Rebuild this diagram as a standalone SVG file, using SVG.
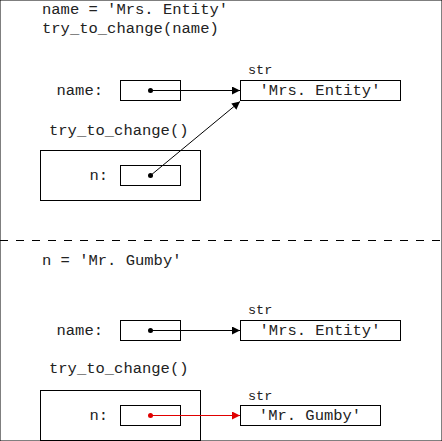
<svg xmlns="http://www.w3.org/2000/svg" width="442" height="441" viewBox="0 0 442 441">
<style>
text{font-family:"Liberation Mono","Courier New",monospace;font-size:15.5px;fill:#222}
.lbl{text-anchor:end}
.mid{text-anchor:middle}
.typ{font-size:13.5px}
rect{fill:none;stroke:#000;stroke-width:1}
.conn{stroke:#000;stroke-width:1;fill:none}
.red{stroke:#e00000}
</style>
<defs>
<marker id="ah" viewBox="0 0 10 10" refX="10" refY="5" markerWidth="9" markerHeight="8" markerUnits="userSpaceOnUse" orient="auto"><path d="M0,0 L10,5 L0,10 z" fill="#000"/></marker>
<marker id="ahr" viewBox="0 0 10 10" refX="10" refY="5" markerWidth="9" markerHeight="8" markerUnits="userSpaceOnUse" orient="auto"><path d="M0,0 L10,5 L0,10 z" fill="#e00000"/></marker>
</defs>
<rect width="442" height="441" fill="#fff" stroke="none"/>
<g id="code1">
<text x="42" y="14">name = 'Mrs. Entity'</text>
<text x="42" y="33">try_to_change(name)</text>
</g>
<g id="name1">
<text class="lbl" x="103" y="95">name:</text>
<rect x="120.5" y="80.5" width="60" height="20"/>
</g>
<g id="str1">
<text class="typ" x="248" y="74">str</text>
<rect x="240.5" y="80.5" width="160" height="20"/>
<text class="mid" x="320" y="95">'Mrs. Entity'</text>
</g>
<g id="frame1">
<text x="49" y="135">try_to_change()</text>
<rect x="40.5" y="150.5" width="160" height="50"/>
<text class="lbl" x="108" y="180">n:</text>
<rect x="120.5" y="165.5" width="60" height="20"/>
</g>
<g id="divider">
<line x1="0" y1="240.5" x2="442" y2="240.5" stroke="#000" stroke-width="1" stroke-dasharray="8,8"/>
</g>
<g id="code2">
<text x="42" y="265">n = 'Mr. Gumby'</text>
</g>
<g id="name2">
<text class="lbl" x="103" y="335">name:</text>
<rect x="120.5" y="320.5" width="60" height="20"/>
</g>
<g id="str2">
<text class="typ" x="248" y="314">str</text>
<rect x="240.5" y="320.5" width="160" height="20"/>
<text class="mid" x="320" y="335">'Mrs. Entity'</text>
</g>
<g id="frame2">
<text x="49" y="373">try_to_change()</text>
<rect x="40.5" y="390.5" width="160" height="50"/>
<text class="lbl" x="108" y="420">n:</text>
<rect x="120.5" y="405.5" width="60" height="20"/>
</g>
<g id="str3">
<text class="typ" x="248" y="400">str</text>
<rect x="240.5" y="405.5" width="140" height="20"/>
<text class="mid" x="310" y="420">'Mr. Gumby'</text>
</g>
<g id="connectors">
<circle cx="150.5" cy="90.5" r="2.5" fill="#000"/>
<line class="conn" x1="150.5" y1="90.5" x2="240" y2="90.5" marker-end="url(#ah)"/>
<circle cx="150.5" cy="175.5" r="2.5" fill="#000"/>
<line class="conn" x1="150.5" y1="175.5" x2="240" y2="101.5" marker-end="url(#ah)"/>
<circle cx="150.5" cy="330.5" r="2.5" fill="#000"/>
<line class="conn" x1="150.5" y1="330.5" x2="240" y2="330.5" marker-end="url(#ah)"/>
<circle cx="150.5" cy="415.5" r="2.5" fill="#e00000"/>
<line class="conn red" x1="150.5" y1="415.5" x2="240" y2="415.5" marker-end="url(#ahr)"/>
</g>
</svg>
